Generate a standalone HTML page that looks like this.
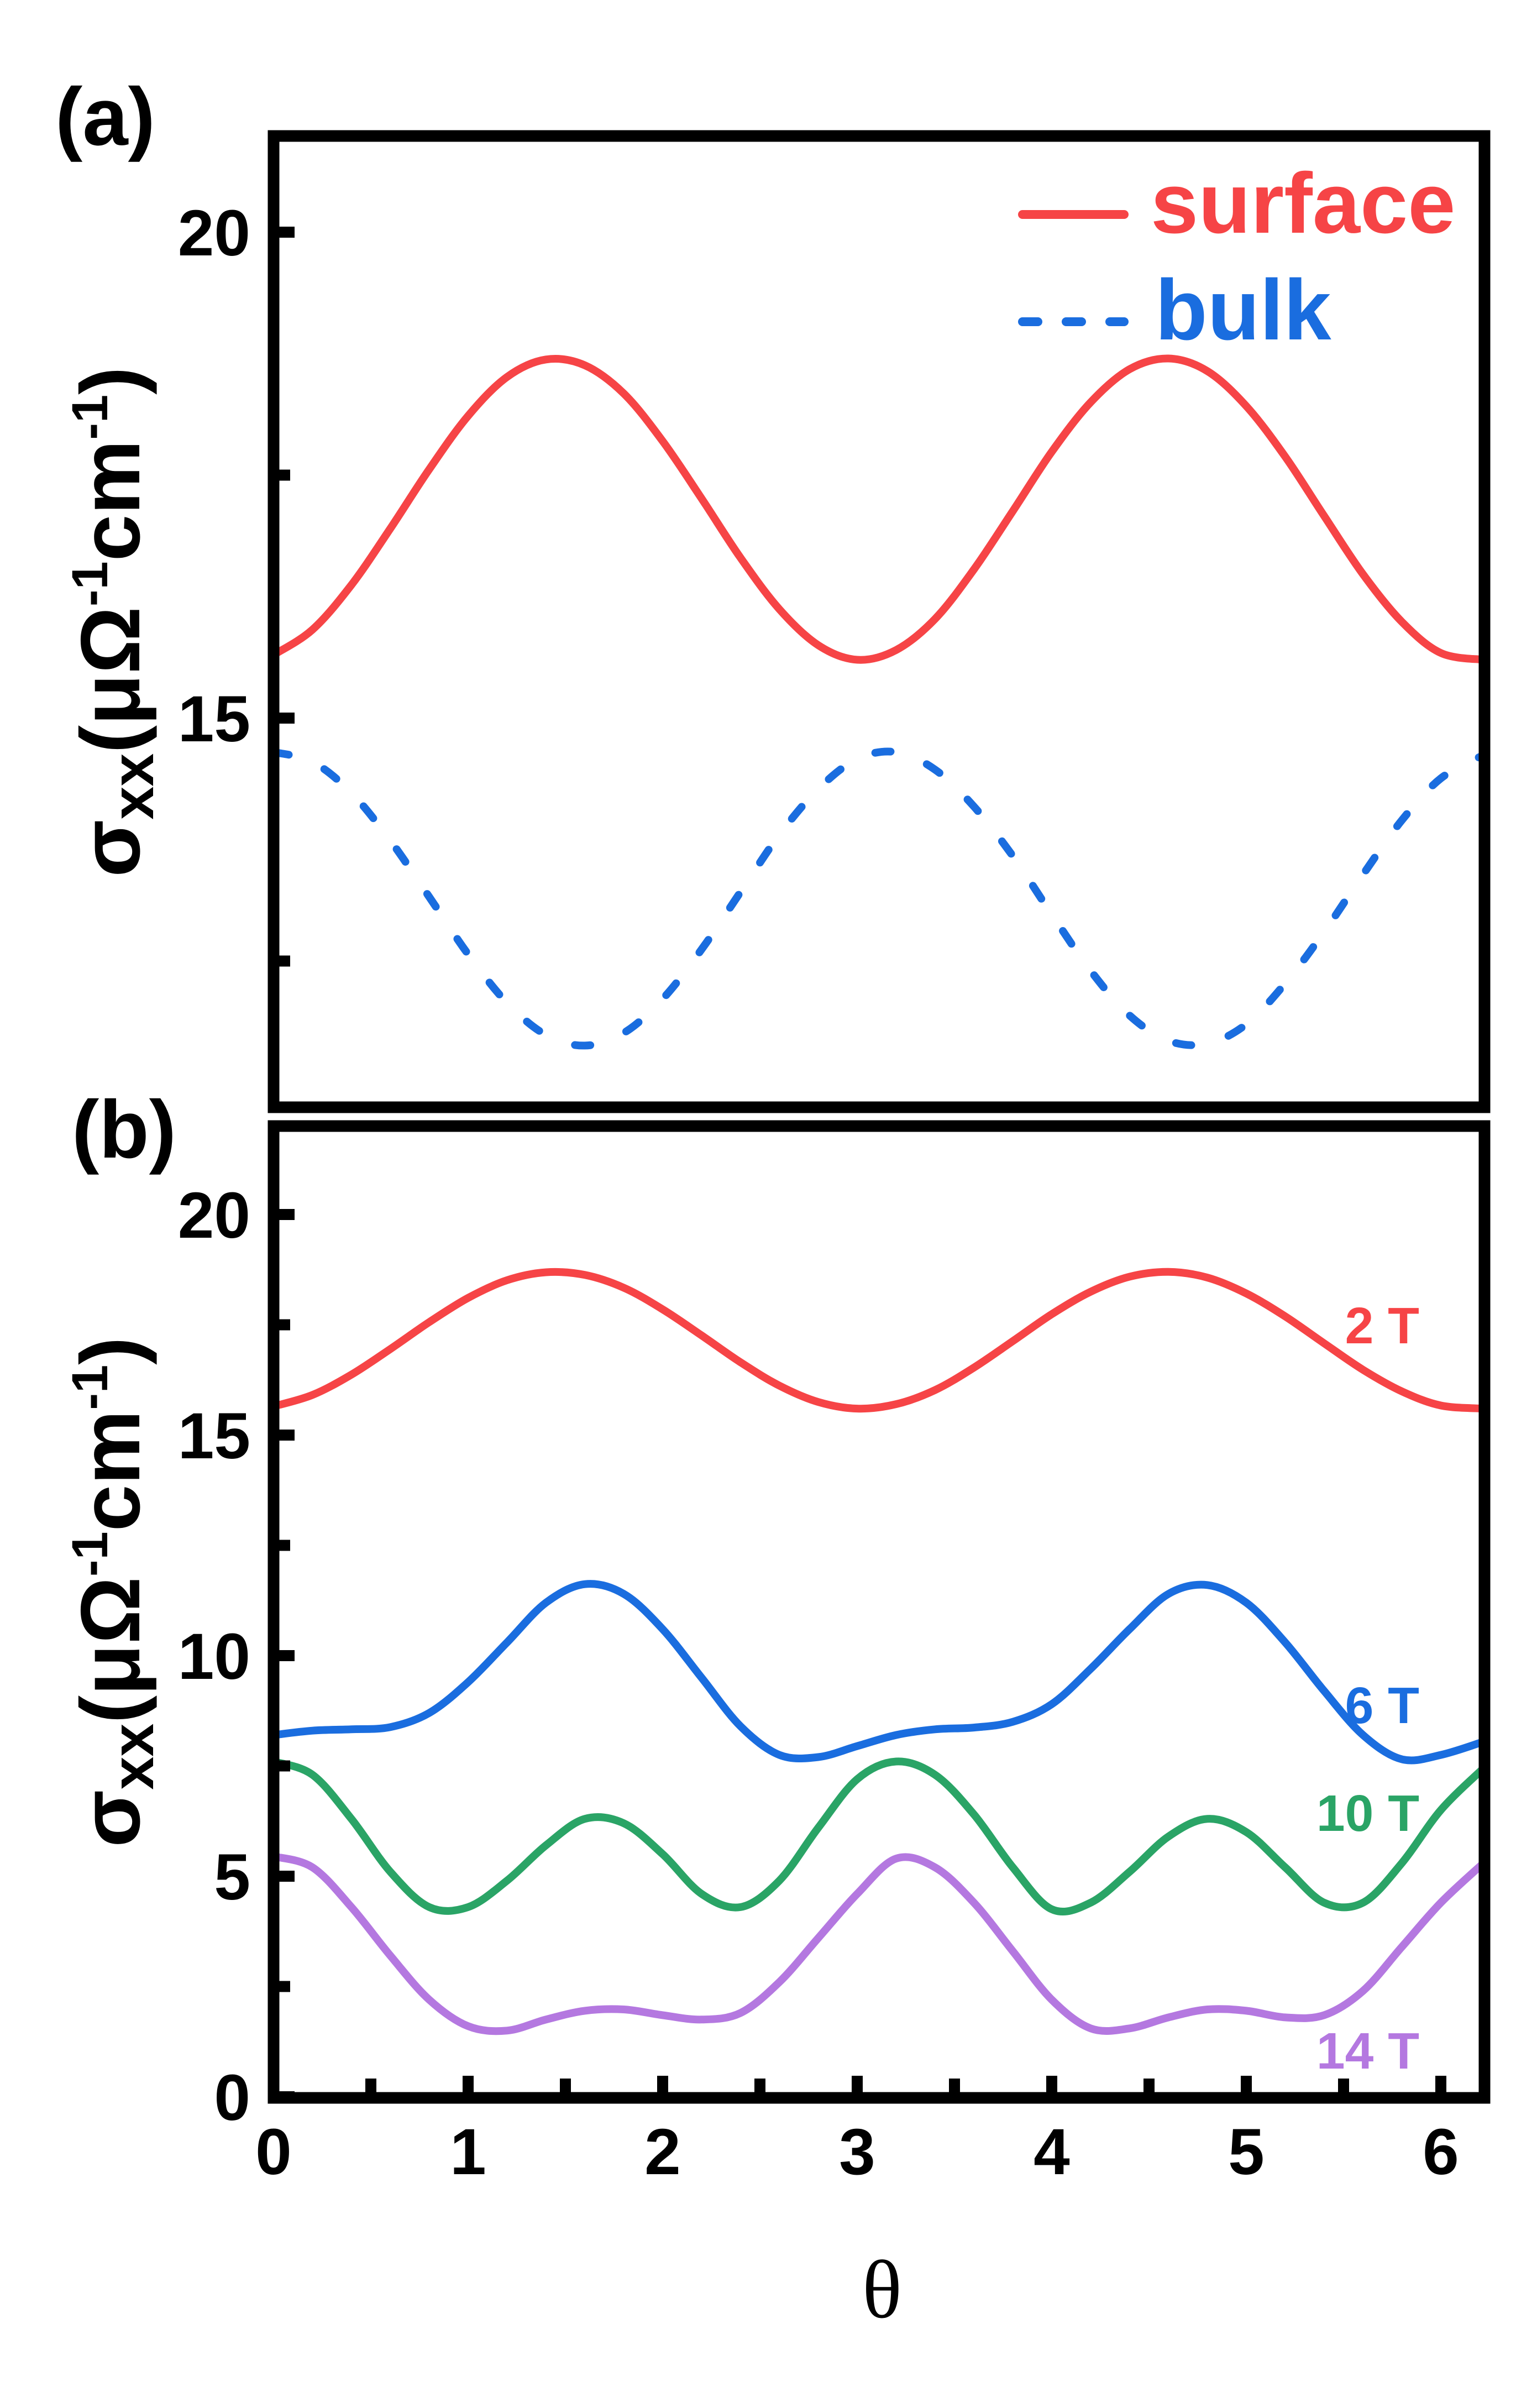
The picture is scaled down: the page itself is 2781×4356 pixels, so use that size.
<!DOCTYPE html>
<html><head><meta charset="utf-8"><style>html,body{margin:0;padding:0;background:#fff}svg{display:block}</style></head>
<body>
<svg id="chart" width="2781" height="4356" viewBox="0 0 2781 4356" xmlns="http://www.w3.org/2000/svg" font-family="'Liberation Sans', Arial, sans-serif" font-weight="bold">
<g id="pa"></g>
<g id="pb"></g>
<text x="100" y="262" font-size="148">(a)</text>
<text x="130" y="2094" font-size="148">(b)</text>
<text x="1596" y="4192" font-size="150" font-weight="normal" font-family="'Liberation Serif', serif" text-anchor="middle">θ</text>
<g>
<line x1="1850" y1="388" x2="2034" y2="388" stroke="#f64446" stroke-width="16" stroke-linecap="round"/>
<text x="2082" y="421" font-size="155" fill="#f64446">surface</text>
<line x1="1850" y1="582" x2="2034" y2="582" stroke="#1a6ddf" stroke-width="16" stroke-linecap="round" stroke-dasharray="28 51"/>
<text x="2090" y="614" font-size="155" fill="#1a6ddf">bulk</text>
</g>
</svg>
<script>
const theta = [0,0.2,0.4,0.6,0.8,1.0,1.2,1.4,1.6,1.8,2.0,2.2,2.4,2.6,2.8,3.0,3.2,3.4,3.6,3.8,4.0,4.2,4.4,4.6,4.8,5.0,5.2,5.4,5.6,5.8,6.0,6.22];
const surface = [15.65,15.91,16.37,16.95,17.56,18.11,18.51,18.69,18.63,18.34,17.85,17.26,16.65,16.12,15.75,15.60,15.70,16.02,16.53,17.13,17.74,18.25,18.59,18.70,18.57,18.21,17.69,17.08,16.48,15.99,15.67,15.60];
const bulk = [14.65,14.55,14.23,13.74,13.16,12.57,12.07,11.74,11.63,11.76,12.11,12.62,13.21,13.80,14.27,14.58,14.65,14.47,14.09,13.58,12.98,12.40,11.94,11.68,11.65,11.85,12.27,12.80,13.39,13.95,14.38,14.62];
const b2T = [15.65,15.91,16.37,16.95,17.56,18.11,18.51,18.69,18.63,18.34,17.85,17.26,16.65,16.12,15.75,15.60,15.70,16.02,16.53,17.13,17.74,18.25,18.59,18.70,18.57,18.21,17.69,17.08,16.48,15.99,15.67,15.60];
const b6T = [8.2,8.3,8.33,8.38,8.7,9.4,10.3,11.2,11.62,11.4,10.6,9.5,8.4,7.75,7.7,7.95,8.2,8.33,8.37,8.5,8.9,9.7,10.6,11.4,11.6,11.2,10.3,9.2,8.2,7.65,7.75,8.05];
const b10T = [7.6,7.3,6.3,5.1,4.3,4.3,4.9,5.7,6.3,6.2,5.5,4.6,4.3,4.9,6.1,7.2,7.6,7.3,6.4,5.2,4.25,4.4,5.1,5.9,6.3,6.0,5.2,4.4,4.4,5.3,6.5,7.45];
const b14T = [5.45,5.2,4.3,3.2,2.2,1.6,1.5,1.75,1.95,1.98,1.85,1.75,1.9,2.6,3.6,4.6,5.4,5.2,4.4,3.3,2.2,1.55,1.55,1.8,1.98,1.95,1.8,1.85,2.4,3.4,4.4,5.3];
const xTicks = [0,1,2,3,4,5,6];
const aTicks = [15,20];
const aMinor = [12.5,17.5];
const bTicks = [0,5,10,15,20];
const bMinor = [2.5,7.5,12.5,17.5];

const NS='http://www.w3.org/2000/svg';
const X0=495, XMAX=(2686-495)/352;
const xs = v => X0 + v*352;
const ya = v => 420 - (v-20)*175.8;
const yb = v => 3793 - v*79.8;
function mk(tag, parent){const e=document.createElementNS(NS,tag);parent.appendChild(e);return e;}
function line(parent,x1,y1,x2,y2,w){const l=mk('line',parent);l.setAttribute('x1',x1);l.setAttribute('y1',y1);l.setAttribute('x2',x2);l.setAttribute('y2',y2);l.setAttribute('stroke','#000');l.setAttribute('stroke-width',w);return l;}
function smoothPath(pts){
  let d='M'+pts[0][0].toFixed(1)+','+pts[0][1].toFixed(1);
  for(let i=0;i<pts.length-1;i++){
    const p0=pts[Math.max(0,i-1)],p1=pts[i],p2=pts[i+1],p3=pts[Math.min(pts.length-1,i+2)];
    const c1x=p1[0]+(p2[0]-p0[0])/6,c1y=p1[1]+(p2[1]-p0[1])/6;
    const c2x=p2[0]-(p3[0]-p1[0])/6,c2y=p2[1]-(p3[1]-p1[1])/6;
    d+='C'+c1x.toFixed(1)+','+c1y.toFixed(1)+' '+c2x.toFixed(1)+','+c2y.toFixed(1)+' '+p2[0].toFixed(1)+','+p2[1].toFixed(1);
  }
  return d;
}
function curve(parent,ys,vals,color,dash){
  const p=mk('path',parent);
  p.setAttribute('d',smoothPath(vals.map((v,i)=>[xs(theta[i]),ys(v)])));
  p.setAttribute('fill','none');p.setAttribute('stroke',color);p.setAttribute('stroke-width','14');
  p.setAttribute('stroke-linejoin','round');
  if(dash){p.setAttribute('stroke-dasharray','28 70');p.setAttribute('stroke-linecap','round');}
  return p;
}
function ylabel(parent,cy){
  const t=mk('text',parent);
  t.setAttribute('transform','translate(252,'+cy+') rotate(-90)');
  t.setAttribute('text-anchor','middle');t.setAttribute('font-size','152');
  t.innerHTML='σ<tspan font-size="108" dy="25">xx</tspan><tspan dy="-25">(μΩ</tspan><tspan font-size="92" dy="-58">-1</tspan><tspan dy="58">cm</tspan><tspan font-size="92" dy="-58">-1</tspan><tspan dy="58">)</tspan>';
  return t;
}
const pa=document.getElementById('pa'), pb=document.getElementById('pb');
const cs=curve(pa,ya,surface,'#f64446',false);


const cbk=curve(pa,ya,bulk,'#1a6ddf',true);


aTicks.forEach(v=>{
  const l=line(pa,X0,ya(v),X0+38,ya(v),20);
  
  
  const t=mk('text',pa);t.setAttribute('x',453);t.setAttribute('y',ya(v)+42);t.setAttribute('text-anchor','end');t.setAttribute('font-size','118');t.textContent=v;
  
  
});
aMinor.forEach(v=>{
  const l=line(pa,X0,ya(v),X0+30,ya(v),20);
  
  
});
const fa=mk('rect',pa);fa.setAttribute('x',495);fa.setAttribute('y',246);fa.setAttribute('width',2191);fa.setAttribute('height',1757);fa.setAttribute('fill','none');fa.setAttribute('stroke','#000');fa.setAttribute('stroke-width','21');


const la=ylabel(pa,1125);



const series=[[b2T,'#f64446','curve-2T'],[b6T,'#1a6ddf','curve-6T'],[b10T,'#2aa466','curve-10T'],[b14T,'#b478e0','curve-14T']];
series.forEach(s=>{
  const c=curve(pb,yb,s[0],s[1],false);
  
  
});
const labs=[['2 T','#f64446',2430],['6 T','#1a6ddf',3117],['10 T','#2aa466',3312],['14 T','#b478e0',3742]];
labs.forEach(s=>{
  const t=mk('text',pb);t.setAttribute('x',2568);t.setAttribute('y',s[2]);t.setAttribute('text-anchor','end');t.setAttribute('font-size','93');t.setAttribute('fill',s[1]);t.textContent=s[0];
  
  
});
bTicks.forEach(v=>{
  const l=line(pb,X0,yb(v),X0+38,yb(v),20);
  
  
  const t=mk('text',pb);t.setAttribute('x',453);t.setAttribute('y',yb(v)+42);t.setAttribute('text-anchor','end');t.setAttribute('font-size','118');t.textContent=v;
  
  
});
bMinor.forEach(v=>{
  const l=line(pb,X0,yb(v),X0+30,yb(v),20);
  
  
});
xTicks.forEach(v=>{
  const l=line(pb,xs(v),3793,xs(v),3755,20);
  
  
  const t=mk('text',pb);t.setAttribute('x',xs(v));t.setAttribute('y',3933);t.setAttribute('text-anchor','middle');t.setAttribute('font-size','118');t.textContent=v;
  
  
  if(v+0.5<XMAX){
    const m=line(pb,xs(v+0.5),3793,xs(v+0.5),3760,20);
    
    
  }
});
const fb=mk('rect',pb);fb.setAttribute('x',495);fb.setAttribute('y',2037);fb.setAttribute('width',2191);fb.setAttribute('height',1758);fb.setAttribute('fill','none');fb.setAttribute('stroke','#000');fb.setAttribute('stroke-width','21');


const lb=ylabel(pb,2880);


</script>
</body></html>
